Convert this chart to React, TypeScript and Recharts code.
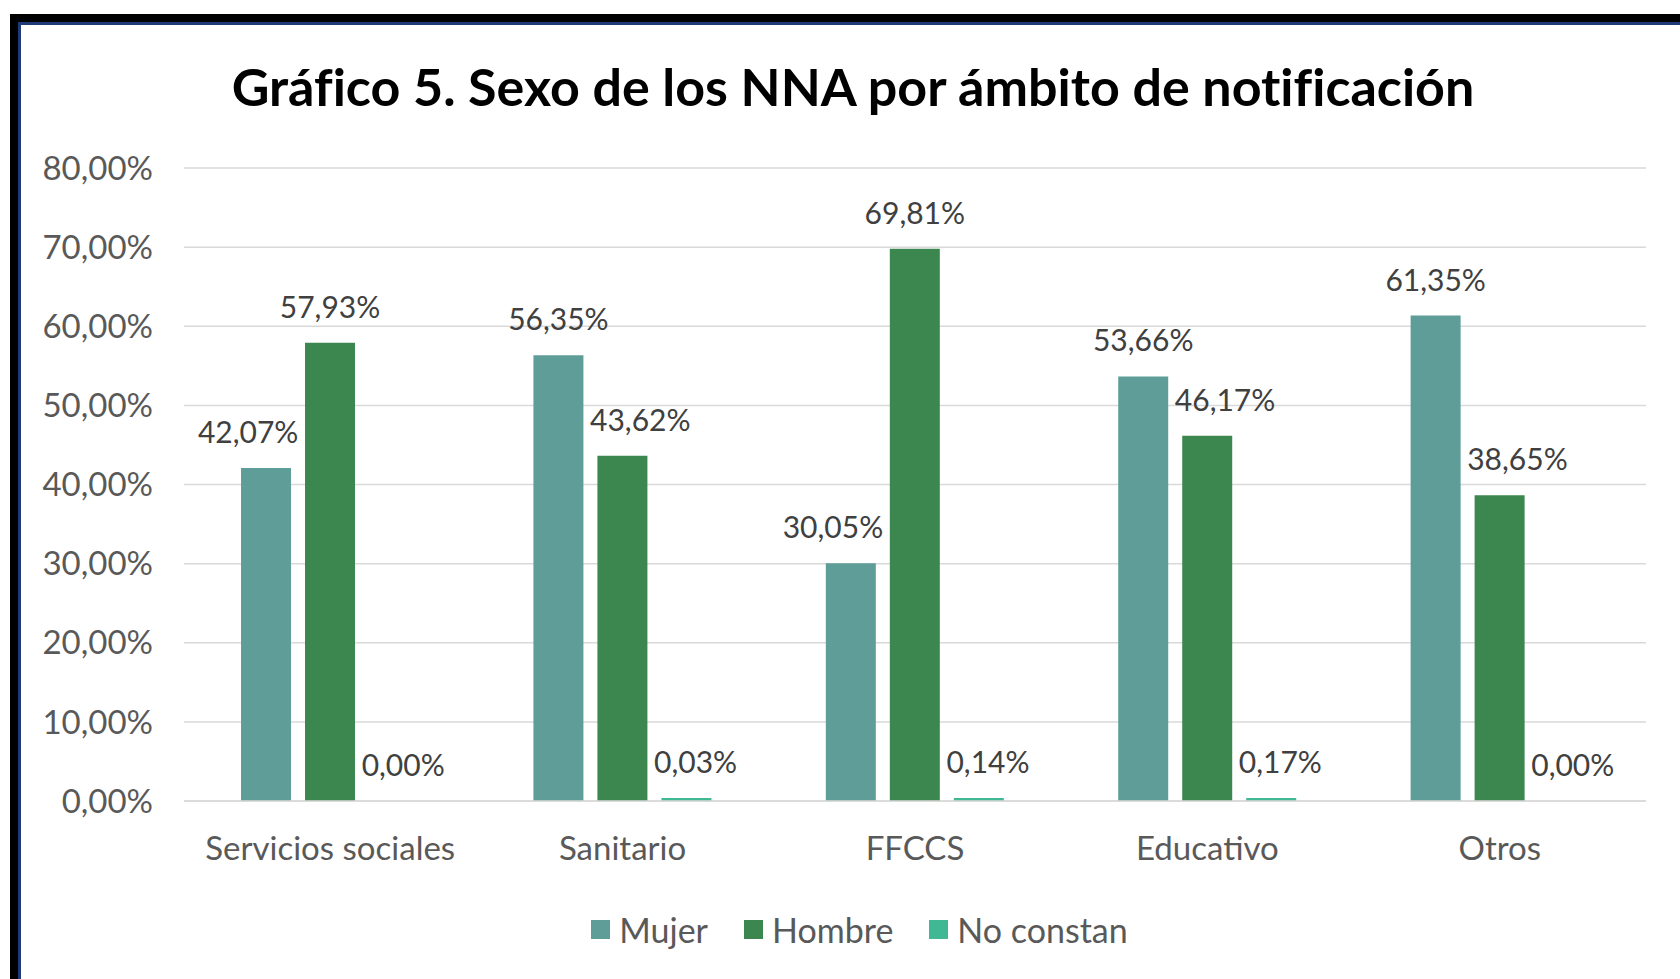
import { Bar, BarChart, CartesianGrid, LabelList, Legend, XAxis, YAxis } from "recharts";

const categories = ["Servicios sociales", "Sanitario", "FFCCS", "Educativo", "Otros"];
const mujer = [42.07, 56.35, 30.05, 53.66, 61.35];
const hombre = [57.93, 43.62, 69.81, 46.17, 38.65];
const noConstan = [0.0, 0.03, 0.14, 0.17, 0.0];
const yTicks = [0, 10, 20, 30, 40, 50, 60, 70, 80];

const series = [
  { key: "mujer", name: "Mujer", color: "#5f9e98", values: mujer },
  { key: "hombre", name: "Hombre", color: "#3c864f", values: hombre },
  { key: "noConstan", name: "No constan", color: "#41b894", values: noConstan },
];

const data = categories.map((name, i) => ({
  name,
  mujer: mujer[i],
  hombre: hombre[i],
  noConstan: noConstan[i],
}));

const font = "Lato, 'Open Sans', sans-serif";
const pct = (v: number) => v.toFixed(2).replace(".", ",") + "%";

// layout
const W = 1680;
const H = 979;
const MARGIN = { top: 168, right: 34, left: 0, bottom: 78 };
const X_AXIS_H = 60;
const LEGEND_H = 40;
const PLOT_H = H - MARGIN.top - MARGIN.bottom - X_AXIS_H - LEGEND_H;
const Y_MAX = 80;
const BAR_GAP = 14;
const LABEL_SIZE = 30;
const LABEL_OFFSET = 25;

// excel style label nudging: push a label sideways when a neighbouring bar is in the way
const makeLabel = (si: number) => (props: any) => {
  const { x, y, width, value, index } = props;
  const v = Number(value);
  const text = pct(v);
  const digits = text.replace(/[^0-9]/g, "").length;
  const w = (digits * 0.58 + 0.23 + 0.84) * LABEL_SIZE;
  const baseline = y - LABEL_OFFSET;
  const bottomPx = MARGIN.top + PLOT_H;
  const topOf = (val: number) => bottomPx - (val / Y_MAX) * PLOT_H;
  let cx = x + width / 2;
  const gap = 6;
  const right = series[si + 1];
  const left = series[si - 1];
  if (right && topOf(right.values[index]) < baseline) {
    const rStart = x + width + BAR_GAP;
    if (cx + w / 2 > rStart - gap) cx = rStart - gap - w / 2;
  }
  if (left && topOf(left.values[index]) < baseline) {
    const lEnd = x - BAR_GAP;
    if (cx - w / 2 < lEnd + gap) cx = lEnd + gap + w / 2;
  }
  return (
    <text x={cx} y={baseline} textAnchor="middle" fill="#404040" fontSize={LABEL_SIZE} fontFamily={font}>
      {text}
    </text>
  );
};

const renderLegend = () => (
  <div
    style={{
      display: "flex",
      justifyContent: "center",
      alignItems: "center",
      gap: 36,
      paddingLeft: 39,
      fontFamily: font,
      fontSize: 34,
      color: "#595959",
      height: LEGEND_H,
    }}
  >
    {series.map((s) => (
      <span key={s.key} style={{ display: "flex", alignItems: "center" }}>
        <span style={{ width: 19, height: 19, background: s.color, marginRight: 9, display: "inline-block" }} />
        {s.name}
      </span>
    ))}
  </div>
);

const App = () => {
  return (
    <div
      style={{
        position: "absolute",
        left: 0,
        top: 0,
        width: W,
        height: H,
        background: "#fff",
        overflow: "hidden",
      }}
    >
      {/* frame */}
      <div
        style={{
          position: "absolute",
          left: 10,
          top: 14,
          width: 1700,
          height: 1000,
          borderTop: "8px solid #000",
          borderLeft: "8px solid #000",
        }}
      >
        <div
          style={{
            width: "100%",
            height: "100%",
            borderTop: "3px solid #1f3a78",
            borderLeft: "3px solid #1f3a78",
          }}
        />
      </div>

      <div
        style={{
          position: "absolute",
          left: 0,
          top: 58,
          width: 1706,
          textAlign: "center",
          fontFamily: font,
          fontWeight: 700,
          fontSize: 52,
          lineHeight: "56px",
          fontVariantLigatures: "none",
          color: "#000",
        }}
      >
        Gráfico 5. Sexo de los NNA por ámbito de notificación
      </div>

      <div style={{ position: "absolute", left: 0, top: 0 }}>
        <BarChart
          width={W}
          height={H}
          data={data}
          margin={MARGIN}
          barCategoryGap="19.5%"
          barGap={BAR_GAP}
        >
          <CartesianGrid vertical={false} stroke="#d9d9d9" strokeWidth={1.5} />
          <XAxis
            dataKey="name"
            interval={0}
            height={X_AXIS_H}
            tickLine={false}
            axisLine={{ stroke: "#d9d9d9", strokeWidth: 1.5 }}
            tickMargin={30}
            tick={{ fill: "#595959", fontSize: 33, fontFamily: font }}
          />
          <YAxis
            width={184}
            domain={[0, Y_MAX]}
            ticks={yTicks}
            interval={0}
            tickLine={false}
            axisLine={false}
            tickMargin={25}
            tickFormatter={pct}
            tick={{ fill: "#595959", fontSize: 33, fontFamily: font }}
          />
          <Legend verticalAlign="bottom" content={renderLegend} wrapperStyle={{ left: 0, width: W, bottom: 30 }} />
          {series.map((s, si) => (
            <Bar
              key={s.key}
              dataKey={s.key}
              name={s.name}
              fill={s.color}
              isAnimationActive={false}
              minPointSize={(v: number) => (v > 0 ? 3 : 0.01)}
            >
              <LabelList dataKey={s.key} content={makeLabel(si)} />
            </Bar>
          ))}
        </BarChart>
      </div>
    </div>
  );
};

export default App;
